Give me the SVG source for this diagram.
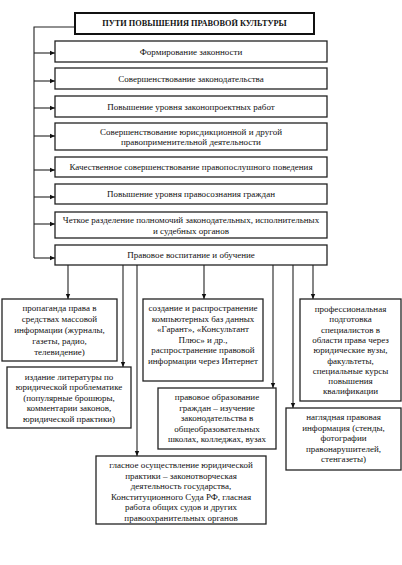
<svg xmlns="http://www.w3.org/2000/svg" width="402" height="565" viewBox="0 0 402 565">
<defs>
<marker id="ah" markerWidth="6" markerHeight="6" refX="5" refY="3" orient="auto" markerUnits="userSpaceOnUse">
<path d="M0,0.8 L5,3 L0,5.2 Z" fill="#111"/>
</marker>
<style>
.box{fill:#fff;stroke:#222;stroke-width:1.3}
.tbox{fill:#fff;stroke:#111;stroke-width:2}
.t{font-family:"Liberation Serif","Times New Roman",serif;font-size:9px;fill:#111;text-anchor:middle;dominant-baseline:central}
.tb{font-family:"Liberation Serif","Times New Roman",serif;font-size:8.3px;font-weight:bold;fill:#111;text-anchor:middle;dominant-baseline:central}
.c{fill:none;stroke:#222;stroke-width:1.1}
.ca{fill:none;stroke:#222;stroke-width:1.1;marker-end:url(#ah)}
</style>
</defs>
<rect width="402" height="565" fill="#fff"/>
<g id="connectors">
<polyline class="c" points="75,27 34,27 34,258"/>
<line class="ca" x1="34" y1="53" x2="55" y2="53"/>
<line class="ca" x1="34" y1="81" x2="55" y2="81"/>
<line class="ca" x1="34" y1="108" x2="55" y2="108"/>
<line class="ca" x1="34" y1="136" x2="55" y2="136"/>
<line class="ca" x1="34" y1="170" x2="55" y2="170"/>
<line class="ca" x1="34" y1="197" x2="55" y2="197"/>
<line class="ca" x1="34" y1="224" x2="55" y2="224"/>
<line class="ca" x1="34" y1="258" x2="55" y2="258"/>
<line class="ca" x1="68" y1="265" x2="68" y2="299"/>
<line class="ca" x1="123" y1="265" x2="123" y2="367"/>
<line class="ca" x1="137" y1="265" x2="137" y2="456"/>
<line class="ca" x1="204" y1="265" x2="204" y2="299"/>
<line class="ca" x1="273" y1="265" x2="273" y2="388"/>
<line class="ca" x1="293" y1="265" x2="293" y2="408"/>
<line class="ca" x1="313" y1="265" x2="313" y2="299"/>
</g>
<g id="title">
<rect class="tbox" x="75" y="13" width="239" height="21"/>
<text class="tb" x="194.5" y="23.5">ПУТИ ПОВЫШЕНИЯ ПРАВОВОЙ КУЛЬТУРЫ</text>
</g>
<g id="n1">
<rect class="box" x="55" y="41" width="272" height="21"/>
<text class="t" x="191" y="51.5">Формирование законности</text>
</g>
<g id="n2">
<rect class="box" x="55" y="68" width="272" height="21"/>
<text class="t" x="191" y="78.5">Совершенствование законодательства</text>
</g>
<g id="n3">
<rect class="box" x="55" y="96" width="272" height="21"/>
<text class="t" x="191" y="106.5">Повышение уровня законопроектных работ</text>
</g>
<g id="n4">
<rect class="box" x="55" y="123" width="272" height="27"/>
<text class="t" x="191" y="131.5">Совершенствование юрисдикционной и другой</text>
<text class="t" x="191" y="142">правоприменительной деятельности</text>
</g>
<g id="n5">
<rect class="box" x="55" y="157" width="272" height="20"/>
<text class="t" x="191" y="167">Качественное совершенствование правопослушного поведения</text>
</g>
<g id="n6">
<rect class="box" x="55" y="184" width="272" height="20"/>
<text class="t" x="191" y="194">Повышение уровня правосознания граждан</text>
</g>
<g id="n7">
<rect class="box" x="55" y="212" width="272" height="26"/>
<text class="t" x="191" y="219.5">Четкое разделение полномочий законодательных, исполнительных</text>
<text class="t" x="191" y="230.5">и судебных органов</text>
</g>
<g id="n8">
<rect class="box" x="55" y="245" width="272" height="20"/>
<text class="t" x="191" y="254.5">Правовое воспитание и обучение</text>
</g>
<g id="b1">
<rect class="box" x="2" y="299" width="115" height="62"/>
<text class="t" x="59.5" y="308">пропаганда права в</text>
<text class="t" x="59.5" y="319">средствах массовой</text>
<text class="t" x="59.5" y="330">информации (журналы,</text>
<text class="t" x="59.5" y="341">газеты, радио,</text>
<text class="t" x="59.5" y="352">телевидение)</text>
</g>
<g id="b2">
<rect class="box" x="7" y="367" width="124" height="61"/>
<text class="t" x="69" y="376.5">издание литературы по</text>
<text class="t" x="69" y="387">юридической проблематике</text>
<text class="t" x="69" y="397.5">(популярные брошюры,</text>
<text class="t" x="69" y="408">комментарии законов,</text>
<text class="t" x="69" y="418.5">юридической практики)</text>
</g>
<g id="b3">
<rect class="box" x="96" y="456" width="170" height="68"/>
<text class="t" x="181" y="465">гласное осуществление юридической</text>
<text class="t" x="181" y="475.5">практики – законотворческая</text>
<text class="t" x="181" y="486">деятельность государства,</text>
<text class="t" x="181" y="496.5">Конституционного Суда РФ, гласная</text>
<text class="t" x="181" y="507">работа общих судов и других</text>
<text class="t" x="181" y="517.5">правоохранительных органов</text>
</g>
<g id="b4">
<rect class="box" x="143" y="299" width="120" height="82"/>
<text class="t" x="203" y="308">создание и распространение</text>
<text class="t" x="203" y="318.5">компьютерных баз данных</text>
<text class="t" x="203" y="329">«Гарант», «Консультант</text>
<text class="t" x="203" y="339.5">Плюс» и др.,</text>
<text class="t" x="203" y="350">распространение правовой</text>
<text class="t" x="203" y="360.5">информации через Интернет</text>
</g>
<g id="b5">
<rect class="box" x="158" y="388" width="118" height="61"/>
<text class="t" x="217" y="397">правовое образование</text>
<text class="t" x="217" y="407.5">граждан – изучение</text>
<text class="t" x="217" y="418">законодательства в</text>
<text class="t" x="217" y="428.5">общеобразовательных</text>
<text class="t" x="217" y="439">школах, колледжах, вузах</text>
</g>
<g id="b6">
<rect class="box" x="300" y="299" width="101" height="102"/>
<text class="t" x="350.5" y="309">профессиональная</text>
<text class="t" x="350.5" y="319.3">подготовка</text>
<text class="t" x="350.5" y="329.6">специалистов в</text>
<text class="t" x="350.5" y="339.9">области права через</text>
<text class="t" x="350.5" y="350.2">юридические вузы,</text>
<text class="t" x="350.5" y="360.5">факультеты,</text>
<text class="t" x="350.5" y="370.8">специальные курсы</text>
<text class="t" x="350.5" y="381.1">повышения</text>
<text class="t" x="350.5" y="391.4">квалификации</text>
</g>
<g id="b7">
<rect class="box" x="286" y="408" width="115" height="62"/>
<text class="t" x="343.5" y="417">наглядная правовая</text>
<text class="t" x="343.5" y="427.5">информация (стенды,</text>
<text class="t" x="343.5" y="438">фотографии</text>
<text class="t" x="343.5" y="448.5">правонарушителей,</text>
<text class="t" x="343.5" y="459">стенгазеты)</text>
</g>
</svg>
